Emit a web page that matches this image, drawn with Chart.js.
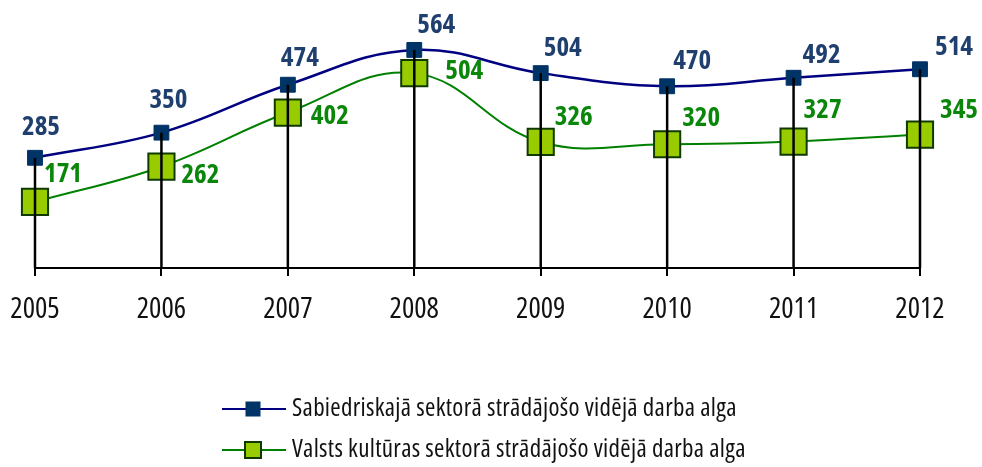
<!DOCTYPE html>
<html>
<head>
<meta charset="utf-8">
<script src="https://cdn.jsdelivr.net/npm/chart.js@4"></script>
<style>
  html, body { margin: 0; padding: 0; background: #fff; }
  #wrap { width: 982px; height: 467px; }
</style>
</head>
<body>
<div id="wrap"><canvas id="algaChart" width="982" height="467"></canvas></div>
<script>
const years = ['2005', '2006', '2007', '2008', '2009', '2010', '2011', '2012'];
const publicWage = [285, 350, 474, 564, 504, 470, 492, 514];
const cultureWage = [171, 262, 402, 504, 326, 320, 327, 345];
const seriesNames = [
  'Sabiedriskajā sektorā strādājošo vidējā darba alga',
  'Valsts kultūras sektorā strādājošo vidējā darba alga'
];

const FONT = '"Open Sans", "Roboto Condensed", sans-serif';

// label nudges (px) per point, as placed in the original
const blueDx = [6, 7, 12, 22, 22, 25, 28, 34];
const blueDy = [-30, -32, -26, -25, -25, -25, -22, -22];
const greenDx = [28, 39, 42, 50, 33, 34, 29, 39];
const greenDy = [-28, 9, 4, -2, -25, -26, -31, -24];

const dropLines = {
  id: 'dropLines',
  afterDatasetsDraw(chart) {
    const ctx = chart.ctx;
    const y0 = chart.scales.y.getPixelForValue(0);
    const top = chart.getDatasetMeta(0).data;
    ctx.save();
    ctx.strokeStyle = '#000';
    ctx.lineWidth = 2.5;
    top.forEach(pt => {
      ctx.beginPath();
      ctx.moveTo(pt.x, y0);
      ctx.lineTo(pt.x, pt.y);
      ctx.stroke();
    });
    ctx.restore();
  }
};

const valueLabels = {
  id: 'valueLabels',
  afterDraw(chart) {
    const ctx = chart.ctx;
    ctx.save();
    ctx.font = 'condensed bold 27px ' + FONT;
    ctx.textAlign = 'center';
    ctx.textBaseline = 'middle';
    const sets = [
      { meta: chart.getDatasetMeta(0), vals: publicWage, color: '#1F3F6F', dx: blueDx, dy: blueDy },
      { meta: chart.getDatasetMeta(1), vals: cultureWage, color: '#0A860A', dx: greenDx, dy: greenDy }
    ];
    sets.forEach(s => {
      ctx.fillStyle = s.color;
      s.meta.data.forEach((pt, i) => {
        ctx.fillText(String(s.vals[i]), pt.x + s.dx[i], pt.y + s.dy[i]);
      });
    });
    ctx.restore();
  }
};

const bottomLegend = {
  id: 'bottomLegend',
  afterDraw(chart) {
    const ctx = chart.ctx;
    const ds = chart.data.datasets;
    const rows = [409, 450];
    ctx.save();
    rows.forEach((y, i) => {
      const d = ds[i];
      ctx.strokeStyle = d.borderColor;
      ctx.lineWidth = 2;
      ctx.beginPath();
      ctx.moveTo(222, y);
      ctx.lineTo(286, y);
      ctx.stroke();
      const s = i === 0 ? 13 : 16;
      ctx.fillStyle = d.pointBackgroundColor;
      ctx.fillRect(253 - s / 2, y - s / 2, s, s);
      ctx.strokeStyle = d.pointBorderColor;
      ctx.lineWidth = 2;
      ctx.strokeRect(253 - s / 2, y - s / 2, s, s);
      ctx.fillStyle = '#111';
      ctx.font = 'condensed 25px ' + FONT;
      ctx.letterSpacing = '0.3px';
      ctx.textAlign = 'left';
      ctx.textBaseline = 'middle';
      ctx.fillText(seriesNames[i], 292, y);
    });
    ctx.restore();
  }
};

const ctx = document.getElementById('algaChart').getContext('2d');
new Chart(ctx, {
  type: 'line',
  data: {
    labels: years,
    datasets: [{
      label: seriesNames[0],
      data: publicWage,
      borderColor: '#000080',
      borderWidth: 2.5,
      tension: 0.4,
      pointStyle: 'rect',
      pointRadius: 10.5,
      pointBackgroundColor: '#003366',
      pointBorderColor: '#003366',
      pointBorderWidth: 1
    }, {
      label: seriesNames[1],
      data: cultureWage,
      borderColor: '#008000',
      borderWidth: 2,
      tension: 0.4,
      pointStyle: 'rect',
      pointRadius: 18.5,
      pointBackgroundColor: '#99CC00',
      pointBorderColor: '#0E3A00',
      pointBorderWidth: 2
    }]
  },
  options: {
    responsive: false,
    animation: false,
    layout: { padding: { top: 36, left: 35, right: 62, bottom: 129 } },
    plugins: {
      legend: { display: false },
      tooltip: { enabled: false }
    },
    scales: {
      x: {
        offset: false,
        afterFit(scale) {
          scale.height = 70;
          scale.paddingLeft = 0;
          scale.paddingRight = 0;
        },
        grid: { drawOnChartArea: false, drawTicks: true, tickLength: 8, color: '#000', lineWidth: 2 },
        border: { display: true, color: '#000', width: 2 },
        ticks: { color: '#111', padding: 16, font: { family: FONT, weight: 'condensed', size: 29 } }
      },
      y: {
        display: false,
        min: 0,
        max: 600
      }
    }
  },
  plugins: [dropLines, valueLabels, bottomLegend]
});
</script>
</body>
</html>
